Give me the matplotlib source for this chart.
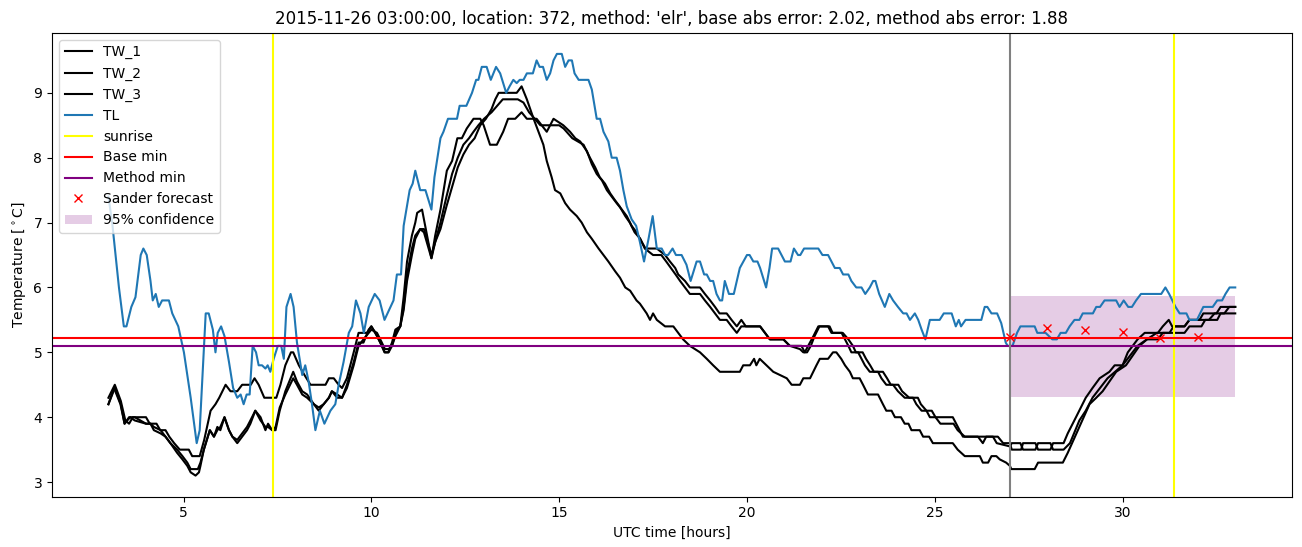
import matplotlib.pyplot as plt

# time in hours UTC from 2015-11-26 00:00, values in degC
t_tw1 = [3.0, 3.17, 3.33, 3.45, 3.55, 3.65, 4.0, 4.1, 4.28, 4.38, 4.52, 4.62, 4.75, 4.9, 5.14, 5.23, 5.43,
         5.55, 5.72, 5.85, 5.95, 6.12, 6.25, 6.43, 6.56, 6.79, 6.89, 7.0, 7.15, 7.47, 7.58, 7.71, 7.86, 7.92,
         8.07, 8.22, 8.38, 8.78, 8.87, 9.0, 9.13, 9.22, 9.35, 9.53, 9.66, 9.88, 10.0, 10.11, 10.24, 10.35,
         10.45, 10.55, 10.64, 10.77, 10.86, 10.95, 11.08, 11.17, 11.22, 11.35, 11.6, 11.7, 11.84, 12.01,
         12.15, 12.29, 12.41, 12.54, 12.72, 12.9, 12.99, 13.16, 13.34, 13.51, 13.64, 13.83, 14.0, 14.14,
         14.4, 14.67, 14.85, 15.11, 15.29, 15.43, 15.56, 15.74, 15.87, 16.0, 16.14, 16.27, 16.4, 16.53,
         16.67, 16.8, 16.93, 17.06, 17.2, 17.3, 17.6, 17.82, 17.95, 18.09, 18.17, 18.35, 18.48, 18.75,
         18.88, 19.02, 19.15, 19.27, 19.46, 19.59, 19.73, 19.85, 19.97, 20.35, 20.48, 20.61, 20.97, 21.14,
         21.45, 21.54, 21.63, 21.77, 21.9, 22.16, 22.25, 22.52, 22.61, 22.7, 22.78, 22.96, 23.05, 23.14,
         23.27, 23.49, 23.58, 23.71, 23.89, 24.02, 24.2, 24.42, 24.51, 24.65, 24.78, 24.87, 25.48, 25.57,
         25.66, 25.75, 26.15, 26.28, 26.37, 26.68, 26.82, 27.0, 27.05, 27.3, 27.35, 27.68, 27.75, 28.08,
         28.15, 28.43, 28.54, 28.76, 29.02, 29.2, 29.39, 29.52, 29.65, 29.79, 30.0, 30.14, 30.27, 30.4,
         30.59, 30.94, 31.07, 31.23, 31.32, 31.65, 31.78, 32.05, 32.15, 32.5, 32.61, 33.0]
tw1 = [4.3, 4.5, 4.25, 3.95, 3.9, 4.0, 4.0, 3.9, 3.9, 3.8, 3.8, 3.7, 3.6, 3.5, 3.5, 3.4, 3.4,
       3.65, 4.1, 4.2, 4.3, 4.5, 4.4, 4.4, 4.5, 4.5, 4.6, 4.5, 4.3, 4.3, 4.5, 4.8, 5.0, 5.0,
       4.8, 4.65, 4.5, 4.5, 4.6, 4.6, 4.5, 4.45, 4.6, 5.0, 5.3, 5.3, 5.4, 5.3, 5.15, 5.0,
       5.0, 5.15, 5.35, 5.4, 5.85, 6.4, 6.8, 7.0, 7.15, 7.2, 6.45, 6.8, 7.2, 7.8,
       7.95, 8.3, 8.3, 8.45, 8.6, 8.6, 8.5, 8.2, 8.2, 8.4, 8.6, 8.6, 8.7, 8.6,
       8.6, 8.4, 8.6, 8.5, 8.4, 8.3, 8.25, 8.1, 7.9, 7.75, 7.65, 7.5, 7.4, 7.3,
       7.2, 7.1, 6.95, 6.85, 6.7, 6.6, 6.6, 6.5, 6.4, 6.3, 6.2, 6.1, 6.0, 6.0,
       5.9, 5.8, 5.7, 5.6, 5.6, 5.5, 5.4, 5.5, 5.4, 5.4, 5.3, 5.2, 5.2, 5.1,
       5.1, 5.0, 5.1, 5.25, 5.4, 5.4, 5.3, 5.3, 5.2, 5.1, 5.0, 5.0, 4.9, 4.8,
       4.7, 4.7, 4.6, 4.5, 4.5, 4.4, 4.3, 4.3, 4.2, 4.1, 4.1, 4.0, 4.0, 3.9,
       3.8, 3.7, 3.7, 3.6, 3.7, 3.7, 3.6, 3.6, 3.5, 3.5, 3.6, 3.6, 3.5, 3.5,
       3.6, 3.6, 3.75, 4.0, 4.3, 4.45, 4.6, 4.65, 4.7, 4.8, 4.8, 5.0, 5.1, 5.2,
       5.3, 5.3, 5.4, 5.5, 5.4, 5.4, 5.5, 5.5, 5.6, 5.6, 5.7, 5.7]

t_tw2 = [3.0, 3.17, 3.33, 3.43, 3.5, 3.58, 3.7, 4.0, 4.12, 4.21, 4.39, 4.52, 4.65, 4.83, 4.97, 5.1, 5.19,
         5.38, 5.45, 5.54, 5.7, 5.81, 5.9, 5.98, 6.09, 6.21, 6.3, 6.43, 6.56, 6.69, 6.78, 6.91, 7.05, 7.18,
         7.25, 7.36, 7.45, 7.56, 7.71, 7.92, 8.02, 8.16, 8.29, 8.47, 8.6, 8.73, 8.87, 8.95, 9.09, 9.22,
         9.35, 9.53, 9.66, 9.79, 9.93, 10.0, 10.15, 10.28, 10.36, 10.46, 10.55, 10.64, 10.77, 10.86, 10.95,
         11.08, 11.17, 11.3, 11.4, 11.6, 11.7, 11.84, 12.0, 12.15, 12.3, 12.45, 12.6, 12.72, 12.85, 13.0,
         13.2, 13.35, 13.5, 13.9, 14.05, 14.2, 14.35, 14.5, 15.0, 15.12, 15.35, 15.5, 15.65, 15.82, 15.96,
         16.08, 16.22, 16.36, 16.48, 16.61, 16.76, 16.88, 17.01, 17.16, 17.28, 17.5, 17.72, 17.85, 18.1,
         18.22, 18.48, 18.75, 18.88, 19.02, 19.28, 19.46, 19.59, 19.73, 19.85, 20.35, 20.48, 20.61, 20.97,
         21.14, 21.41, 21.5, 21.6, 21.7, 21.8, 21.93, 22.2, 22.28, 22.55, 22.7, 22.82, 22.9, 23.08, 23.17,
         23.28, 23.38, 23.62, 23.73, 23.83, 24.03, 24.13, 24.32, 24.55, 24.63, 24.78, 24.92, 25.02, 25.15,
         25.5, 25.61, 25.8, 26.2, 26.55, 26.65, 27.0, 27.05, 27.28, 27.35, 27.68, 27.75, 28.08, 28.15, 28.43,
         28.6, 28.85, 29.02, 29.2, 29.4, 29.6, 29.8, 30.0, 30.2, 30.4, 30.65, 30.94, 31.07, 31.65, 31.78,
         32.1, 32.2, 32.52, 32.61, 33.0]
tw2 = [4.2, 4.45, 4.2, 3.9, 3.95, 4.0, 3.95, 3.9, 3.9, 3.8, 3.75, 3.7, 3.6, 3.5, 3.4, 3.3, 3.2,
       3.2, 3.3, 3.5, 3.8, 3.7, 3.85, 3.8, 4.0, 3.8, 3.7, 3.6, 3.7, 3.8, 3.9, 4.1, 4.0, 3.8,
       3.9, 3.8, 3.8, 4.1, 4.4, 4.7, 4.55, 4.4, 4.35, 4.2, 4.1, 4.2, 4.3, 4.4, 4.3, 4.3,
       4.5, 4.85, 5.15, 5.15, 5.35, 5.4, 5.25, 5.1, 5.0, 5.0, 5.1, 5.3, 5.4, 5.7, 6.2,
       6.6, 6.8, 6.9, 6.85, 6.45, 6.7, 7.0, 7.4, 7.75, 8.0, 8.2, 8.3, 8.4, 8.5, 8.6,
       8.7, 8.8, 8.9, 8.9, 8.85, 8.7, 8.6, 8.5, 8.5, 8.45, 8.3, 8.25, 8.2, 8.0, 7.85,
       7.7, 7.6, 7.45, 7.35, 7.25, 7.1, 7.0, 6.85, 6.75, 6.6, 6.5, 6.5, 6.4, 6.2,
       6.1, 5.9, 5.9, 5.8, 5.7, 5.5, 5.5, 5.4, 5.3, 5.4, 5.4, 5.3, 5.2, 5.2,
       5.1, 5.05, 5.0, 5.0, 5.1, 5.25, 5.4, 5.4, 5.3, 5.3, 5.2, 5.1, 5.0, 5.0, 4.9,
       4.8, 4.7, 4.7, 4.6, 4.5, 4.5, 4.4, 4.3, 4.3, 4.2, 4.1, 4.1, 4.0, 3.9,
       3.9, 3.8, 3.7, 3.7, 3.7, 3.6, 3.55, 3.6, 3.6, 3.5, 3.5, 3.6, 3.6, 3.5, 3.5,
       3.6, 3.95, 4.1, 4.3, 4.45, 4.6, 4.7, 4.8, 4.95, 5.1, 5.2, 5.2, 5.3, 5.3, 5.4,
       5.4, 5.5, 5.5, 5.6, 5.6]

t_tw3 = [3.0, 3.15, 3.32, 3.43, 3.55, 3.7, 4.0, 4.12, 4.21, 4.39, 4.52, 4.65, 4.83, 4.97, 5.1, 5.19, 5.32,
         5.41, 5.45, 5.54, 5.7, 5.81, 5.9, 5.98, 6.09, 6.21, 6.3, 6.43, 6.56, 6.69, 6.78, 6.91, 7.05, 7.18,
         7.25, 7.36, 7.45, 7.56, 7.71, 7.92, 8.02, 8.16, 8.29, 8.47, 8.6, 8.73, 8.87, 8.95, 9.09, 9.22,
         9.35, 9.53, 9.66, 9.79, 9.93, 10.0, 10.15, 10.28, 10.36, 10.46, 10.55, 10.64, 10.77, 10.86, 10.95,
         11.08, 11.17, 11.3, 11.4, 11.6, 11.7, 11.84, 12.0, 12.15, 12.3, 12.45, 12.6, 12.75, 12.9, 13.05,
         13.2, 13.3, 13.39, 13.87, 14.0, 14.14, 14.32, 14.45, 14.58, 14.67, 14.8, 14.89, 15.03, 15.16,
         15.29, 15.47, 15.6, 15.74, 15.87, 16.05, 16.18, 16.31, 16.49, 16.62, 16.76, 16.89, 17.06, 17.15,
         17.33, 17.42, 17.5, 17.6, 17.82, 18.04, 18.17, 18.3, 18.48, 18.75, 18.93, 19.1, 19.28, 19.81,
         19.9, 20.08, 20.19, 20.25, 20.34, 20.52, 20.7, 21.06, 21.19, 21.41, 21.5, 21.68, 21.85, 21.94,
         22.16, 22.29, 22.38, 22.51, 22.61, 22.74, 22.82, 23.0, 23.09, 23.22, 23.49, 23.62, 23.71, 23.85,
         23.94, 24.1, 24.2, 24.3, 24.38, 24.6, 24.69, 24.85, 24.95, 25.48, 25.61, 25.8, 26.2, 26.28, 26.42,
         26.51, 26.64, 26.73, 26.9, 27.0, 27.04, 27.66, 27.75, 28.41, 28.54, 28.85, 29.12, 29.3, 29.47,
         29.65, 29.83, 30.09, 30.27, 30.45, 30.65, 30.91, 31.25, 31.36, 31.65, 31.78, 32.3, 32.45, 32.71,
         32.84, 33.0]
tw3 = [4.2, 4.45, 4.2, 3.9, 4.0, 4.0, 3.9, 3.9, 3.85, 3.8, 3.7, 3.6, 3.45, 3.35, 3.25, 3.15, 3.1,
       3.15, 3.25, 3.5, 3.8, 3.7, 3.8, 3.85, 4.0, 3.8, 3.7, 3.65, 3.75, 3.85, 3.95, 4.1, 3.95, 3.85,
       3.85, 3.8, 3.85, 4.15, 4.35, 4.6, 4.5, 4.35, 4.3, 4.2, 4.15, 4.2, 4.3, 4.4, 4.35, 4.3,
       4.45, 4.8, 5.1, 5.2, 5.3, 5.35, 5.3, 5.15, 5.05, 5.05, 5.1, 5.25, 5.4, 5.65, 6.1,
       6.5, 6.75, 6.9, 6.9, 6.5, 6.7, 6.9, 7.25, 7.55, 7.85, 8.05, 8.2, 8.3, 8.5, 8.6,
       8.75, 8.9, 9.0, 9.0, 9.1, 8.9, 8.6, 8.4, 8.2, 7.95, 7.7, 7.5, 7.45, 7.3,
       7.2, 7.1, 7.0, 6.85, 6.75, 6.6, 6.5, 6.4, 6.25, 6.15, 6.0, 5.95, 5.8, 5.75,
       5.6, 5.5, 5.6, 5.5, 5.4, 5.4, 5.3, 5.2, 5.1, 5.0, 4.9, 4.8, 4.7, 4.7,
       4.8, 4.8, 4.9, 4.8, 4.9, 4.8, 4.7, 4.6, 4.5, 4.5, 4.6, 4.6, 4.8, 4.9,
       4.9, 5.0, 5.0, 4.9, 4.8, 4.7, 4.6, 4.6, 4.5, 4.35, 4.35, 4.2, 4.1, 4.1,
       4.0, 4.0, 3.9, 3.9, 3.8, 3.8, 3.7, 3.7, 3.6, 3.6, 3.5, 3.4, 3.4, 3.3, 3.3,
       3.4, 3.4, 3.35, 3.3, 3.25, 3.2, 3.2, 3.3, 3.3, 3.45, 3.85, 4.2, 4.3, 4.4,
       4.55, 4.7, 4.8, 4.95, 5.1, 5.2, 5.3, 5.3, 5.4, 5.4, 5.5, 5.5, 5.6, 5.6,
       5.7, 5.7]

t_tl = [3.0, 3.1, 3.28, 3.41, 3.48, 3.61, 3.72, 3.86, 3.93, 4.02, 4.12, 4.18, 4.26, 4.34, 4.43, 4.61, 4.7,
        4.86, 5.01, 5.19, 5.35, 5.43, 5.59, 5.67, 5.78, 5.85, 5.91, 6.0, 6.09, 6.21, 6.32, 6.43, 6.52,
        6.6, 6.68, 6.76, 6.84, 6.93, 7.0, 7.09, 7.18, 7.24, 7.31, 7.4, 7.51, 7.6, 7.67, 7.74, 7.85, 7.93,
        8.02, 8.16, 8.24, 8.33, 8.42, 8.51, 8.63, 8.75, 8.91, 9.04, 9.13, 9.26, 9.4, 9.49, 9.59, 9.71,
        9.8, 9.93, 10.09, 10.22, 10.35, 10.51, 10.59, 10.68, 10.79, 10.86, 11.02, 11.1, 11.17, 11.3,
        11.44, 11.6, 11.68, 11.84, 11.92, 12.04, 12.28, 12.35, 12.53, 12.68, 12.79, 12.85, 12.94, 13.07,
        13.18, 13.32, 13.43, 13.59, 13.68, 13.78, 13.87, 13.95, 14.05, 14.14, 14.3, 14.4, 14.48, 14.57,
        14.67, 14.76, 14.85, 14.94, 15.07, 15.16, 15.25, 15.34, 15.41, 15.52, 15.78, 15.87, 16.0, 16.09,
        16.18, 16.31, 16.4, 16.53, 16.62, 16.71, 16.8, 16.93, 17.05, 17.15, 17.26, 17.38, 17.49, 17.6,
        17.73, 17.82, 17.9, 18.02, 18.11, 18.26, 18.39, 18.5, 18.66, 18.75, 18.86, 18.93, 19.02, 19.1,
        19.19, 19.28, 19.34, 19.41, 19.52, 19.65, 19.81, 20.0, 20.07, 20.17, 20.28, 20.35, 20.51, 20.6,
        20.67, 20.83, 21.01, 21.16, 21.25, 21.36, 21.42, 21.52, 21.9, 22.01, 22.16, 22.34, 22.47, 22.56,
        22.7, 22.78, 22.91, 23.05, 23.15, 23.27, 23.36, 23.42, 23.52, 23.67, 23.79, 23.89, 24.02, 24.16,
        24.25, 24.34, 24.47, 24.56, 24.65, 24.75, 24.87, 25.13, 25.24, 25.45, 25.56, 25.64, 25.7, 25.82,
        26.24, 26.33, 26.4, 26.51, 26.66, 26.77, 26.89, 26.94, 27.07, 27.19, 27.28, 27.66, 27.73, 27.95,
        28.13, 28.25, 28.35, 28.49, 28.59, 28.72, 28.85, 28.94, 29.21, 29.3, 29.4, 29.52, 29.83, 29.92,
        30.03, 30.15, 30.25, 30.36, 30.49, 31.03, 31.14, 31.24, 31.41, 31.52, 31.7, 31.78, 31.98, 32.15,
        32.4, 32.52, 32.65, 32.74, 32.85, 33.0]
tl = [7.4, 7.0, 6.0, 5.4, 5.4, 5.7, 5.85, 6.5, 6.6, 6.5, 6.1, 5.8, 5.9, 5.7, 5.8, 5.8, 5.6,
      5.4, 5.0, 4.3, 3.6, 3.8, 5.6, 5.6, 5.35, 5.0, 5.3, 5.4, 5.25, 4.85, 4.45, 4.3, 4.35,
      4.2, 4.35, 4.35, 5.1, 5.0, 4.8, 4.8, 4.75, 4.8, 4.7, 4.9, 5.1, 5.1, 4.9, 5.7, 5.9, 5.7,
      5.15, 4.65, 4.8, 4.55, 4.2, 3.8, 4.1, 3.9, 4.1, 4.2, 4.5, 4.85, 5.3, 5.4, 5.8, 5.6,
      5.3, 5.7, 5.9, 5.8, 5.5, 5.7, 5.8, 6.2, 6.2, 6.95, 7.5, 7.6, 7.8, 7.5,
      7.5, 7.2, 7.7, 8.3, 8.4, 8.6, 8.6, 8.8, 8.8, 9.0, 9.2, 9.2, 9.4, 9.4,
      9.2, 9.4, 9.3, 9.0, 9.1, 9.2, 9.15, 9.2, 9.2, 9.3, 9.3, 9.5, 9.4, 9.4,
      9.2, 9.3, 9.5, 9.6, 9.6, 9.4, 9.5, 9.5, 9.3, 9.2, 9.2, 9.05, 8.6, 8.6,
      8.4, 8.25, 8.0, 8.0, 7.8, 7.5, 7.25, 7.05, 6.95, 6.7, 6.4, 6.75, 7.1, 6.6,
      6.6, 6.5, 6.5, 6.6, 6.5, 6.5, 6.35, 6.1, 6.4, 6.4, 6.2, 6.2, 6.1, 6.1,
      5.9, 5.8, 5.8, 6.1, 5.9, 5.9, 6.3, 6.5, 6.5, 6.4, 6.4, 6.3, 6.0, 6.3,
      6.6, 6.6, 6.4, 6.4, 6.6, 6.5, 6.5, 6.6, 6.6, 6.5, 6.5, 6.3, 6.3, 6.2,
      6.2, 6.1, 6.0, 6.0, 5.9, 6.0, 6.1, 6.1, 5.9, 5.7, 5.9, 5.8, 5.7, 5.6,
      5.6, 5.5, 5.6, 5.5, 5.35, 5.2, 5.5, 5.5, 5.6, 5.6, 5.4, 5.5, 5.4, 5.5,
      5.5, 5.7, 5.7, 5.6, 5.6, 5.45, 5.15, 5.1, 5.1, 5.3, 5.4, 5.4, 5.3, 5.3,
      5.2, 5.2, 5.3, 5.3, 5.4, 5.5, 5.5, 5.6, 5.6, 5.7, 5.7, 5.8, 5.8, 5.7,
      5.8, 5.7, 5.7, 5.8, 5.9, 5.9, 6.0, 5.9, 5.7, 5.6, 5.6, 5.5, 5.5, 5.7,
      5.7, 5.8, 5.8, 5.9, 6.0, 6.0]

sunrises = [7.37, 31.36]
forecast_time = 27.0
base_min = 5.22
method_min = 5.09
conf = 0.78

t_sander = [27, 28, 29, 30, 31, 32]
sander = [5.24, 5.37, 5.34, 5.32, 5.22, 5.24]

plt.figure(figsize=(13.02, 5.47), dpi=100)
plt.plot(t_tw1, tw1, color='black', label='TW_1')
plt.plot(t_tw2, tw2, color='black', label='TW_2')
plt.plot(t_tw3, tw3, color='black', label='TW_3')
plt.plot(t_tl, tl, color='tab:blue', label='TL')
plt.axvline(sunrises[0], color='yellow', label='sunrise')
plt.axvline(sunrises[1], color='yellow')
plt.axhline(base_min, color='red', label='Base min')
plt.axhline(method_min, color='purple', label='Method min')
plt.axvline(forecast_time, color='grey')
plt.plot(t_sander, sander, 'x', color='red', label='Sander forecast')
plt.fill_between([forecast_time, forecast_time + 6], method_min - conf, method_min + conf,
                 color='purple', alpha=0.2, linewidth=0, label='95% confidence')

plt.title("2015-11-26 03:00:00, location: 372, method: 'elr', base abs error: 2.02, method abs error: 1.88")
plt.xlabel('UTC time [hours]')
plt.ylabel(r'Temperature [$^\circ$C]')
plt.legend(loc='upper left')
plt.subplots_adjust(left=0.04, right=0.992, bottom=0.092, top=0.94)

plt.savefig('out.png', dpi=100)
